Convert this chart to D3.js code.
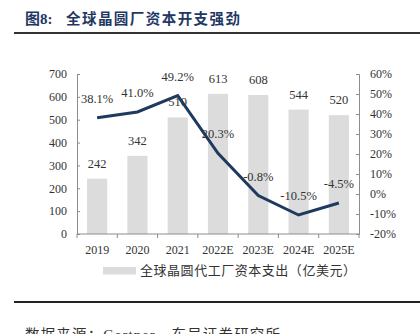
<!DOCTYPE html>
<html><head><meta charset="utf-8">
<script src="https://cdn.jsdelivr.net/npm/d3@7/dist/d3.min.js"></script>
<style>body{margin:0;background:#fff}svg{display:block}</style>
</head><body>
<script>
const categories = ["2019","2020","2021","2022E","2023E","2024E","2025E"];
const capex = [242,342,510,613,608,544,520];
const growth = [38.1,41.0,49.2,20.3,-0.8,-10.5,-4.5];
const leftTicks = [0,100,200,300,400,500,600,700];
const rightTicks = [-20,-10,0,10,20,30,40,50,60];
const titlePrefix = "图8:";
const titleText = "全球晶圆厂资本开支强劲";
const legendText = "全球晶圆代工厂资本支出（亿美元）";
const sourceText = "数据来源：Gartner，东吴证券研究所";

const W=420,H=334;
const svg=d3.select("body").append("svg").attr("width",W).attr("height",H);
const serif="'Liberation Serif','Times New Roman',serif";
const cjk="'Liberation Serif','Noto Sans CJK SC',serif";
const m={l:77,r:359,t:74,b:234};

svg.append("text").attr("x",25).attr("y",23.5).text(titlePrefix)
  .attr("font-family",cjk).attr("font-weight","bold").attr("font-size",15)
  .attr("fill","#1f3864");
svg.append("text").attr("x",66).attr("y",23.5).text(titleText)
  .attr("font-family",cjk).attr("font-weight","bold").attr("font-size",14.5)
  .attr("textLength",174).attr("lengthAdjust","spacing")
  .attr("fill","#1f3864");
svg.append("line").attr("x1",14).attr("x2",420).attr("y1",33).attr("y2",33)
  .attr("stroke","#333").attr("stroke-width",2);

const x=d3.scaleBand().domain(categories).range([m.l,m.r]).paddingInner(0.5).paddingOuter(0.25);
const yL=d3.scaleLinear().domain([0,700]).range([m.b,m.t]);
const yR=d3.scaleLinear().domain([-20,60]).range([m.b,m.t]);

// bars
svg.selectAll("rect.bar").data(capex).join("rect").attr("class","bar")
  .attr("x",(d,i)=>x(categories[i])).attr("width",x.bandwidth())
  .attr("y",d=>yL(d)).attr("height",d=>m.b-yL(d)).attr("fill","#dcdcdc");

// axes
const axisColor="#8c8c8c";
function styleAxis(g){
  g.select(".domain").attr("stroke",axisColor);
  g.selectAll(".tick line").attr("stroke",axisColor);
  g.selectAll(".tick text").attr("font-family",serif).attr("font-size",12).attr("fill","#333");
}
const gl=svg.append("g").attr("transform",`translate(${m.l},0)`)
  .call(d3.axisRight(yL).tickValues(leftTicks).tickSize(3).tickSizeOuter(3));
styleAxis(gl);
gl.selectAll(".tick text").attr("x",-10).attr("text-anchor","end");

const gr=svg.append("g").attr("transform",`translate(${m.r},0)`)
  .call(d3.axisLeft(yR).tickValues(rightTicks).tickSize(3).tickSizeOuter(3).tickFormat(d=>d+"%"));
styleAxis(gr);
gr.selectAll(".tick text").attr("x",11).attr("text-anchor","start");

// x axis with boundary ticks
const gx=svg.append("g").attr("transform",`translate(0,${m.b})`);
gx.append("line").attr("x1",m.l).attr("x2",m.r).attr("stroke",axisColor);
const step=(m.r-m.l)/categories.length;
d3.range(categories.length+1).forEach(i=>{
  gx.append("line").attr("x1",m.l+i*step).attr("x2",m.l+i*step).attr("y1",0).attr("y2",4).attr("stroke",axisColor);
});
gx.selectAll("text").data(categories).join("text")
  .attr("x",d=>x(d)+x.bandwidth()/2).attr("y",20).attr("text-anchor","middle")
  .attr("font-family",serif).attr("font-size",12).attr("fill","#333").text(d=>d);

// bar labels
svg.selectAll("text.bl").data(capex).join("text").attr("class","bl")
  .attr("x",(d,i)=>x(categories[i])+x.bandwidth()/2).attr("y",d=>yL(d)-11)
  .attr("text-anchor","middle").attr("font-family",serif).attr("font-size",12.5).attr("fill","#333")
  .text(d=>d);

// line
const line=d3.line().x((d,i)=>x(categories[i])+x.bandwidth()/2).y(d=>yR(d));
svg.append("path").datum(growth).attr("d",line).attr("fill","none")
  .attr("stroke","#1f3a5f").attr("stroke-width",3).attr("stroke-linejoin","miter");

svg.selectAll("text.ll").data(growth).join("text").attr("class","ll")
  .attr("x",(d,i)=>x(categories[i])+x.bandwidth()/2).attr("y",d=>yR(d)-15)
  .attr("text-anchor","middle").attr("font-family",serif).attr("font-size",12.5).attr("fill","#333")
  .text(d=>d.toFixed(1)+"%");

// legend
svg.append("rect").attr("x",103).attr("y",267).attr("width",33).attr("height",7.5).attr("fill","#dcdcdc");
svg.append("text").attr("x",140).attr("y",275).text(legendText)
  .attr("font-family",cjk).attr("font-size",13).attr("textLength",216).attr("lengthAdjust","spacing")
  .attr("fill","#333");

svg.append("line").attr("x1",14).attr("x2",420).attr("y1",302).attr("y2",302)
  .attr("stroke","#222").attr("stroke-width",2);
svg.append("text").attr("x",25).attr("y",340).text(sourceText)
  .attr("font-family",cjk).attr("font-size",14.5).attr("fill","#333")
  .attr("textLength",255).attr("lengthAdjust","spacing");
</script>
</body></html>
